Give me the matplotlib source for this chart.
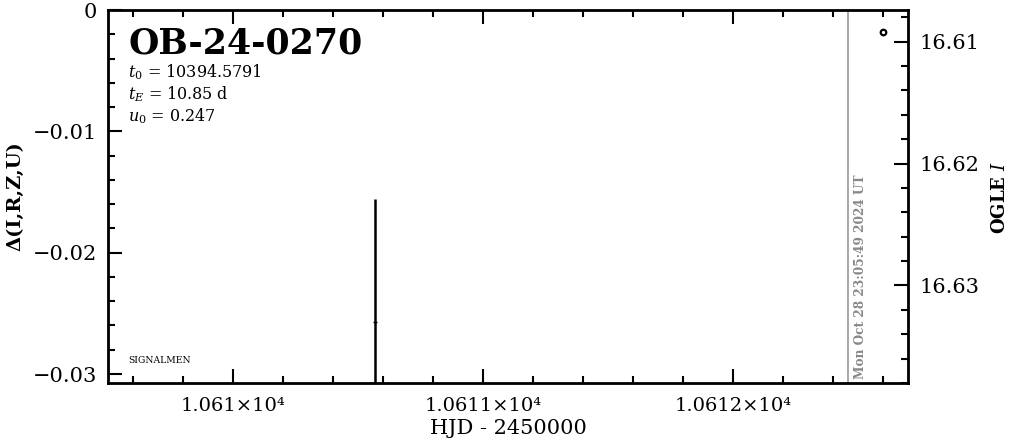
import matplotlib
matplotlib.use("Agg")
import matplotlib.pyplot as plt
from matplotlib.ticker import MultipleLocator, FuncFormatter

# data
delta_hjd = [10610.568]
delta_val = [-0.0257]
delta_err = [0.0101]
ogle_hjd = [10612.60]
ogle_mag = [16.6092]
now_hjd = 10612.46

event = "OB-24-0270"
t0 = "10394.5791"
tE = "10.85"
u0 = "0.247"
stamp = "Mon Oct 28 23:05:49 2024 UT"

plt.rcParams['font.family'] = ['DejaVu Serif']
plt.rcParams['mathtext.fontset'] = 'dejavuserif'

fig = plt.figure(figsize=(10.11, 4.42), dpi=100)
ax = fig.add_axes([108 / 1011, 59 / 442, 800 / 1011, 373 / 442])

ax.errorbar(delta_hjd, delta_val, yerr=delta_err, fmt='_', color='black',
            ms=3, elinewidth=1.8, capsize=0, zorder=3)
ax.axvline(now_hjd, color='#999999', lw=1.2)
ax.text(now_hjd + 0.022, -0.0304, stamp, rotation=90, color='#888888',
        fontsize=8.7, fontweight='bold', ha='left', va='bottom')

ax.set_xlim(10609.5, 10612.7)
ax.set_ylim(-0.03074, 0)
ax.xaxis.set_major_locator(MultipleLocator(1))
ax.xaxis.set_minor_locator(MultipleLocator(0.2))
ax.yaxis.set_major_locator(MultipleLocator(0.01))
ax.yaxis.set_minor_locator(MultipleLocator(0.002))


def xfmt(v, pos):
    s = ('%.4f' % (v / 1e4)).rstrip('0')
    return s + '×10⁴'


def yfmt(v, pos):
    if abs(v) < 1e-9:
        return '0'
    return ('%.2f' % v).replace('-', '−')


ax.xaxis.set_major_formatter(FuncFormatter(xfmt))
ax.yaxis.set_major_formatter(FuncFormatter(yfmt))
ax.tick_params(which='both', direction='in', top=True, right=False, width=1.5)
ax.tick_params(which='major', length=10)
ax.tick_params(which='minor', length=5)
ax.tick_params(axis='x', which='major', labelsize=14, pad=10)
ax.tick_params(axis='y', which='major', labelsize=15, pad=8)
for sp in ax.spines.values():
    sp.set_linewidth(2)

ax.set_xlabel('HJD - 2450000', fontsize=15, labelpad=3)
ax.set_ylabel('Δ(I,R,Z,U)', fontsize=14, fontweight='bold', labelpad=6)

ax.text(0.025, 0.955, event, transform=ax.transAxes, fontsize=25,
        fontweight='bold', va='top', ha='left')
ax.text(0.025, 0.834, r'$t_0$ = ' + t0, transform=ax.transAxes, fontsize=11.5, va='center')
ax.text(0.025, 0.775, r'$t_E$ = ' + tE + ' d', transform=ax.transAxes, fontsize=11.5, va='center')
ax.text(0.025, 0.716, r'$u_0$ = ' + u0, transform=ax.transAxes, fontsize=11.5, va='center')
ax.text(0.025, 0.06, 'SIGNALMEN', transform=ax.transAxes, fontsize=6.7, va='center')

ax2 = ax.twinx()
ax2.plot(ogle_hjd, ogle_mag, 'o', mfc='white', mec='black', ms=4, mew=1.6)
ax2.set_ylim(16.638, 16.6074)
ax2.yaxis.set_major_locator(MultipleLocator(0.01))
ax2.yaxis.set_minor_locator(MultipleLocator(0.002))
ax2.tick_params(which='both', direction='in', width=1.5)
ax2.tick_params(which='major', length=10, labelsize=15, pad=8)
ax2.tick_params(which='minor', length=5)

fig.text(1000 / 1011, (442 - 197) / 442, r'OGLE $I$', rotation=90, fontsize=13,
         fontweight='bold', ha='center', va='center')

fig.savefig('out.png', dpi=100)
